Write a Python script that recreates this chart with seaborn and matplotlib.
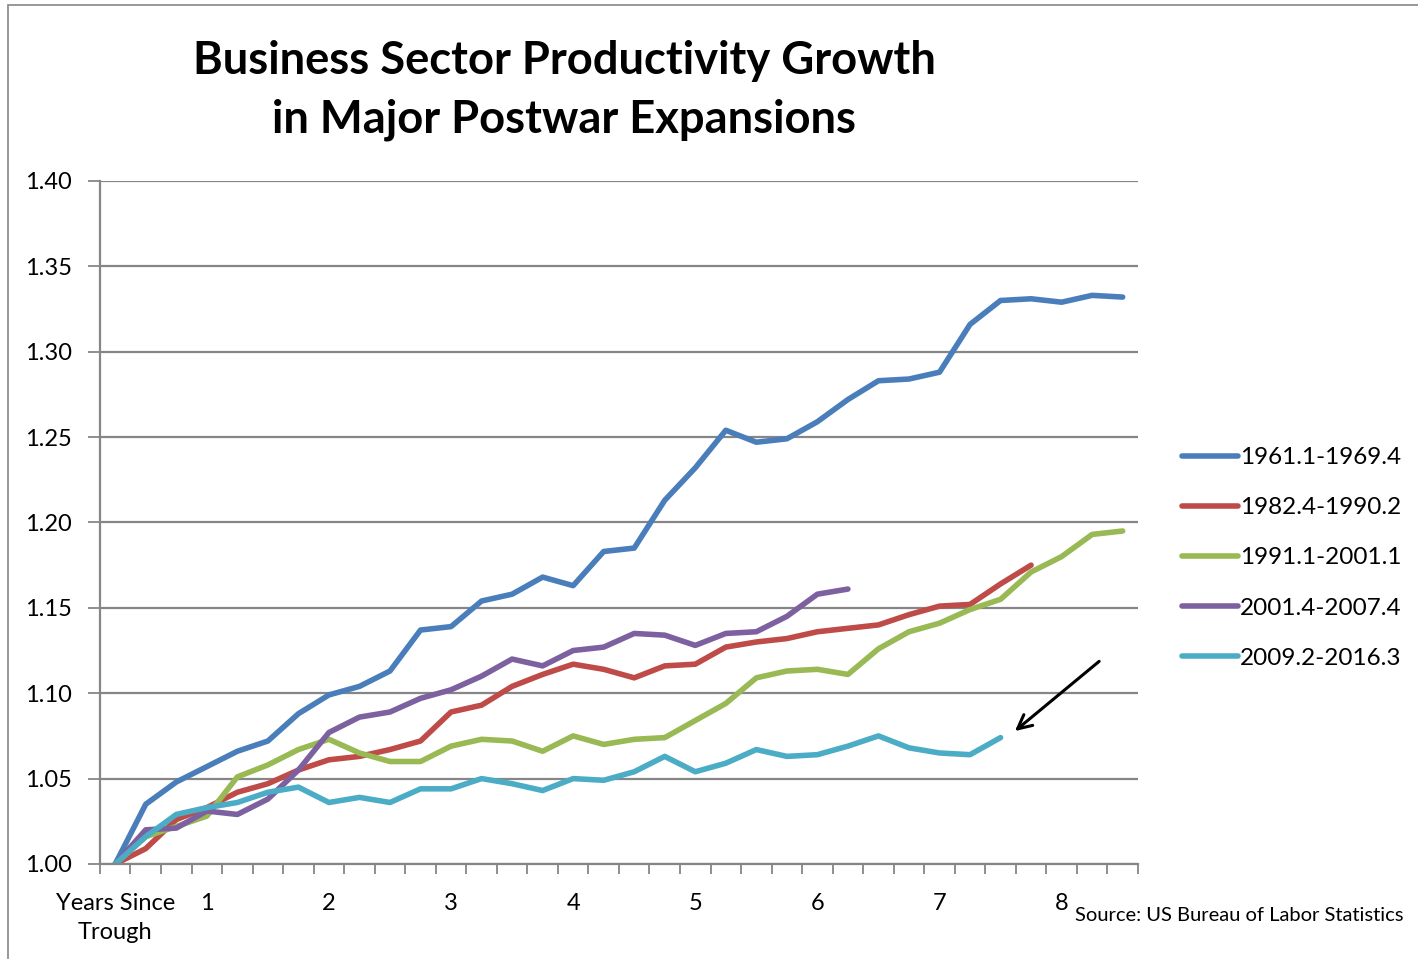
import numpy as np
import pandas as pd
import seaborn as sns
import matplotlib.pyplot as plt
from matplotlib.patches import Rectangle

# index values, quarter by quarter since trough (trough = 1.00)
periods = ["1961.1-1969.4", "1982.4-1990.2", "1991.1-2001.1",
           "2001.4-2007.4", "2009.2-2016.3"]
s1961 = [1.000, 1.035, 1.048, 1.057, 1.066, 1.072, 1.088, 1.099, 1.104, 1.113,
         1.137, 1.139, 1.154, 1.158, 1.168, 1.163, 1.183, 1.185, 1.213, 1.232,
         1.254, 1.247, 1.249, 1.259, 1.272, 1.283, 1.284, 1.288, 1.316, 1.330,
         1.331, 1.329, 1.333, 1.332]
s1982 = [1.000, 1.009, 1.026, 1.033, 1.042, 1.047, 1.055, 1.061, 1.063, 1.067,
         1.072, 1.089, 1.093, 1.104, 1.111, 1.117, 1.114, 1.109, 1.116, 1.117,
         1.127, 1.130, 1.132, 1.136, 1.138, 1.140, 1.146, 1.151, 1.152, 1.164,
         1.175]
s1991 = [1.000, 1.016, 1.022, 1.028, 1.051, 1.058, 1.067, 1.073, 1.065, 1.060,
         1.060, 1.069, 1.073, 1.072, 1.066, 1.075, 1.070, 1.073, 1.074, 1.084,
         1.094, 1.109, 1.113, 1.114, 1.111, 1.126, 1.136, 1.141, 1.149, 1.155,
         1.171, 1.180, 1.193, 1.195]
s2001 = [1.000, 1.020, 1.021, 1.031, 1.029, 1.038, 1.055, 1.077, 1.086, 1.089,
         1.097, 1.102, 1.110, 1.120, 1.116, 1.125, 1.127, 1.135, 1.134, 1.128,
         1.135, 1.136, 1.145, 1.158, 1.161]
s2009 = [1.000, 1.016, 1.029, 1.033, 1.036, 1.042, 1.045, 1.036, 1.039, 1.036,
         1.044, 1.044, 1.050, 1.047, 1.043, 1.050, 1.049, 1.054, 1.063, 1.054,
         1.059, 1.067, 1.063, 1.064, 1.069, 1.075, 1.068, 1.065, 1.064, 1.074]
colors = ["#4A7EBB", "#BE4B48", "#98B954", "#7D60A0", "#4BACC6"]

n_cats = 34
label_pos = [0, 3, 7, 11, 15, 19, 23, 27, 31]
tick_labels = ["Years Since\nTrough", "1", "2", "3", "4", "5", "6", "7", "8"]

rows = []
for name, vals in zip(periods, [s1961, s1982, s1991, s2001, s2009]):
    for q, v in enumerate(vals):
        rows.append({"quarter": q, "index": v, "period": name})
df = pd.DataFrame(rows)

sns.set_style("white")
plt.rcParams['font.family'] = ['Lato', 'DejaVu Sans']
plt.rcParams['text.color'] = 'black'
plt.rcParams['xtick.color'] = 'black'
plt.rcParams['ytick.color'] = 'black'

fig = plt.figure(figsize=(14.18, 9.59), dpi=100)
ax = fig.add_axes([0.0705, 0.0991, 0.7320, 0.7122])

sns.lineplot(data=df, x="quarter", y="index", hue="period",
             palette=colors, linewidth=4, ax=ax, legend=True,
             solid_capstyle="round")

ax.set_xlim(-0.5, n_cats - 0.5)
ax.set_ylim(1.0, 1.4)
ax.set_yticks(np.arange(1.0, 1.401, 0.05))
ax.set_yticklabels([f"{v:.2f}" for v in np.arange(1.0, 1.401, 0.05)], fontsize=17)
ax.yaxis.grid(True, color="#868686", linewidth=1.6)
ax.set_axisbelow(True)

ax.set_xticks(label_pos)
ax.set_xticklabels(tick_labels, fontsize=17, linespacing=1.45)
ax.set_xticks(np.arange(-0.5, n_cats, 1), minor=True)
ax.tick_params(axis="x", which="major", length=0, pad=21)
ax.tick_params(axis="x", which="minor", length=7, width=1.3, color="#868686",
               direction="out", bottom=True)
ax.tick_params(axis="y", length=9, width=1.3, color="#868686", direction="out",
               left=True, pad=11, labelcolor="black")
ax.tick_params(axis="x", labelcolor="black")
ax.set_xlabel("")
ax.set_ylabel("")

for side in ["top", "right"]:
    ax.spines[side].set_visible(False)
for side in ["left", "bottom"]:
    ax.spines[side].set_color("#868686")
    ax.spines[side].set_linewidth(1.6)

leg = ax.legend(loc="center left", bbox_to_anchor=(1.021, 0.448), frameon=False,
                fontsize=17.5, handlelength=2.3, handletextpad=0.1,
                labelspacing=1.2)
for line in leg.get_lines():
    line.set_linewidth(4)

ax.annotate("", xy=(29.4, 1.0768), xytext=(32.3, 1.1197),
            arrowprops=dict(arrowstyle="->", color="black", lw=2.2,
                            mutation_scale=25))

fig.text(0.398, 0.906, "Business Sector Productivity Growth\nin Major Postwar Expansions",
         ha="center", va="center", fontsize=32.7, fontweight="bold",
         linespacing=1.48)
fig.text(0.758, 0.045, "Source: US Bureau of Labor Statistics",
         ha="left", va="center", fontsize=14.5)

fig.patches.append(Rectangle((0.0056, -0.01), 1.1, 1.005, transform=fig.transFigure,
                             fill=False, edgecolor="#868686", linewidth=1.2))

plt.savefig("out.png", dpi=100)
